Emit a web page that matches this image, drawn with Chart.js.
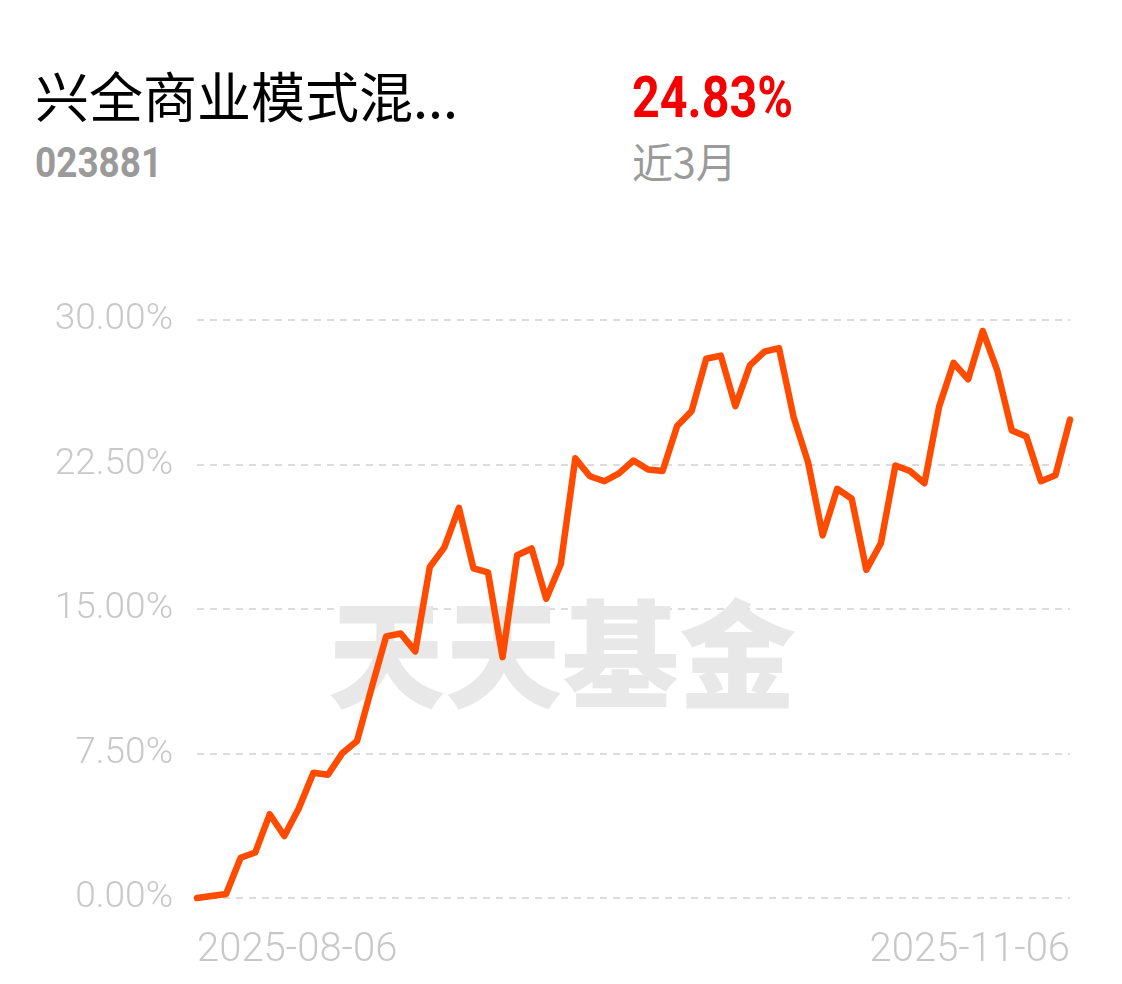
<!DOCTYPE html>
<html>
<head>
<meta charset="utf-8">
<script src="https://cdn.jsdelivr.net/npm/chart.js@4.4.1/dist/chart.umd.min.js"></script>
<style>
  html, body { margin: 0; padding: 0; background: #fff; }
  body { width: 1122px; height: 984px; position: relative; overflow: hidden; }
  .hd { position: absolute; white-space: nowrap; transform-origin: 0 0; }
  .name { left: 35px; top: 55px; font: 400 54px "Noto Sans CJK SC", sans-serif; color: #000; }
  .code { left: 35px; top: 138px; font: 700 42px Roboto, sans-serif; color: #9a9a9a; transform: scaleX(0.88); }
  .rate { left: 632px; top: 64px; font: 700 57px Roboto, sans-serif; color: #f50000; transform: scaleX(0.85); }
  .period { left: 632px; top: 130px; font: 400 41px "Noto Sans CJK SC", sans-serif; color: #9a9a9a; }
  #chart { position: absolute; left: 0; top: 0; }
</style>
</head>
<body>
<div class="hd name">兴全商业模式混...</div>
<div class="hd code">023881</div>
<div class="hd rate">24.83%</div>
<div class="hd period">近3月</div>
<canvas id="chart" width="1122" height="984"></canvas>
<script>
// trading days, 2025-08-06 .. 2025-11-06
const dates = [
  '2025-08-06', '2025-08-07', '2025-08-08', '2025-08-11', '2025-08-12', '2025-08-13', '2025-08-14', '2025-08-15',
  '2025-08-18', '2025-08-19', '2025-08-20', '2025-08-21', '2025-08-22', '2025-08-25', '2025-08-26', '2025-08-27',
  '2025-08-28', '2025-08-29', '2025-09-01', '2025-09-02', '2025-09-03', '2025-09-04', '2025-09-05', '2025-09-08',
  '2025-09-09', '2025-09-10', '2025-09-11', '2025-09-12', '2025-09-15', '2025-09-16', '2025-09-17', '2025-09-18',
  '2025-09-19', '2025-09-22', '2025-09-23', '2025-09-24', '2025-09-25', '2025-09-26', '2025-09-29', '2025-09-30',
  '2025-10-09', '2025-10-10', '2025-10-13', '2025-10-14', '2025-10-15', '2025-10-16', '2025-10-17', '2025-10-20',
  '2025-10-21', '2025-10-22', '2025-10-23', '2025-10-24', '2025-10-27', '2025-10-28', '2025-10-29', '2025-10-30',
  '2025-10-31', '2025-11-03', '2025-11-04', '2025-11-05', '2025-11-06'
]
// cumulative return, %
const returns = [
  0.00, 0.10, 0.21, 2.09, 2.36, 4.35, 3.22, 4.66, 6.50, 6.40,
  7.53, 8.15, 10.90, 13.58, 13.73, 12.80, 17.18, 18.20, 20.25, 17.11,
  16.90, 12.50, 17.79, 18.14, 15.53, 17.32, 22.82, 21.89, 21.63, 22.04,
  22.71, 22.24, 22.16, 24.50, 25.28, 27.99, 28.15, 25.53, 27.64, 28.36,
  28.54, 24.97, 22.61, 18.82, 21.24, 20.72, 17.03, 18.41, 22.45, 22.16,
  21.53, 25.49, 27.78, 26.92, 29.43, 27.38, 24.26, 23.95, 21.63, 21.94,
  24.83
]
const yTicks = [0, 7.5, 15, 22.5, 30]

const watermark = {
  id: 'watermark',
  beforeDatasetsDraw(chart) {
    const ctx = chart.ctx
    ctx.save()
    ctx.font = '900 117px "Noto Sans CJK SC"'
    ctx.fillStyle = '#e8e8e8'
    ctx.textAlign = 'center'
    ctx.textBaseline = 'middle'
    ctx.fillText('天天基金', 562, 655)
    ctx.restore()
  }
}

new Chart(document.getElementById('chart'), {
  type: 'line',
  data: {
    labels: dates,
    datasets: [{
      data: returns,
      borderColor: '#ff4b00',
      borderWidth: 6.5,
      pointRadius: 0,
      tension: 0,
      borderJoinStyle: 'round',
      borderCapStyle: 'round',
      clip: false
    }]
  },
  options: {
    responsive: false, animation: false,
    layout: { padding: { top: 320, right: 52, bottom: 0, left: 0 } },
    plugins: { legend: { display: false }, tooltip: { enabled: false } },
    scales: {
      x: {
        grid: { display: false },
        border: { display: false },
        afterFit: s => { s.height = 86 },
        ticks: {
          autoSkip: false, maxRotation: 0, align: 'inner', padding: 21,
          color: '#c8c8c8', font: { family: 'Roboto', size: 40, weight: 300 },
          callback: (v, i) => (i === 0 || i === dates.length - 1) ? dates[i] : ''
        }
      },
      y: {
        min: 0, max: 30,
        afterBuildTicks: s => { s.ticks = yTicks.map(v => ({ value: v })) },
        afterFit: s => { s.width = 197 },
        grid: { color: '#dcdcdc', lineWidth: 2, drawTicks: false },
        border: { display: false, dash: [7, 6] },
        ticks: {
          padding: 24,
          color: '#c8c8c8', font: { family: 'Roboto', size: 37, weight: 300 },
          callback: v => v.toFixed(2) + '%'
        }
      }
    }
  },
  plugins: [watermark]
})
</script>
</body>
</html>
